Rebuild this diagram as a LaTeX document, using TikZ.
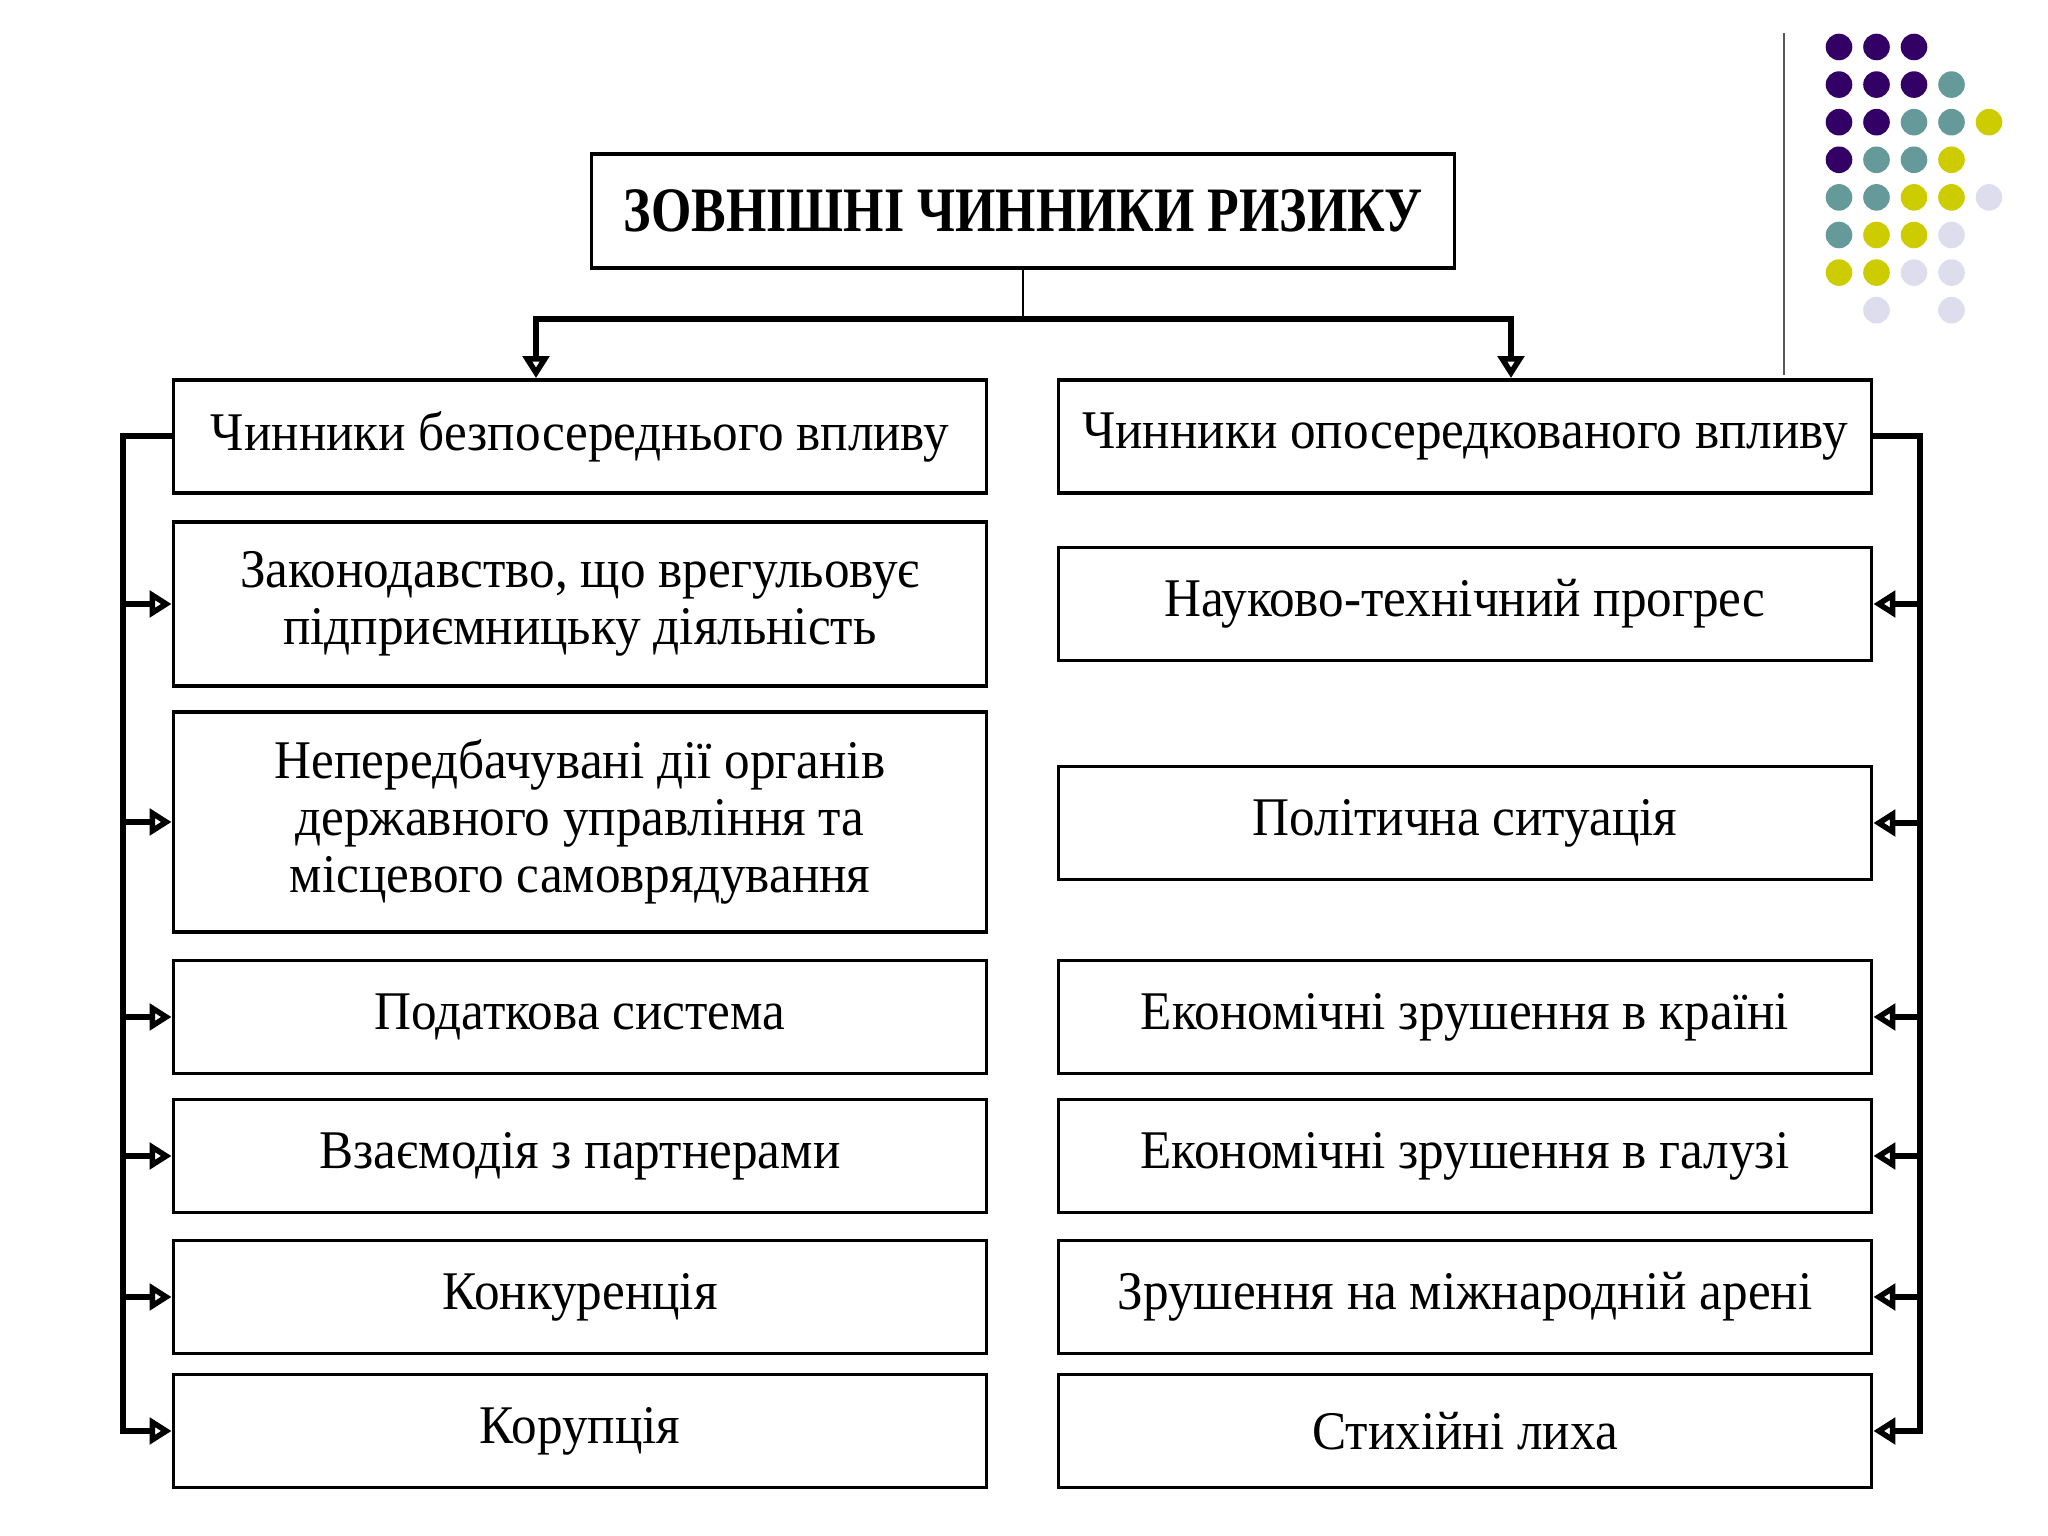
\documentclass[tikz,border=0pt]{standalone}
\usepackage{fontspec}
\setmainfont[FakeStretch=0.94]{Liberation Serif}
\newfontfamily\titlefont[FakeStretch=0.82]{Liberation Serif}
\usetikzlibrary{arrows.meta}

\definecolor{ppl}{RGB}{51,0,102}
\definecolor{tea}{RGB}{102,153,153}
\definecolor{ylw}{RGB}{204,204,0}
\definecolor{lav}{RGB}{221,221,238}

\tikzset{
  factor/.style={draw, line width=1.1pt, minimum width=8.13cm, minimum height=1.13cm,
    align=center, inner sep=2pt, font=\fontsize{15.5}{16.2}\selectfont},
  feed/.style={-{Triangle[open, length=0.22cm, width=0.26cm]}, line width=1.7pt}
}

\begin{document}
\begin{tikzpicture}
    \useasboundingbox (0,0) rectangle (20.48,15.36);

    % Decoration
    \draw[gray!70!black, line width=0.7pt] (17.84,15.03) -- (17.84,11.61);
    \foreach \dotrow [count=\r from 0] in {
        {ppl,ppl,ppl,none,none},
        {ppl,ppl,ppl,tea,none},
        {ppl,ppl,tea,tea,ylw},
        {ppl,tea,tea,ylw,none},
        {tea,tea,ylw,ylw,lav},
        {tea,ylw,ylw,lav,none},
        {ylw,ylw,lav,lav,none},
        {none,lav,none,lav,none}}
      \foreach \c [count=\k from 0] in \dotrow
        \path[fill=\c] (18.39+0.375*\k, 14.89-0.376*\r) circle (0.133);

    % Title
    \node[draw, line width=1.1pt, minimum width=8.63cm, minimum height=1.14cm,
          font=\titlefont\bfseries\fontsize{18}{20}\selectfont] (title) at (10.23,13.25)
          {ЗОВНІШНІ ЧИННИКИ РИЗИКУ};

    % Left column
    \node[factor] (l1) at (5.80,10.995) {Чинники безпосереднього впливу};
    \node[factor, minimum height=1.64cm] (l2) at (5.80,9.32)
          {Законодавство, що врегульовує\\підприємницьку діяльність};
    \node[factor, minimum height=2.20cm] (l3) at (5.80,7.14)
          {Непередбачувані дії органів\\державного управління та\\місцевого самоврядування};
    \node[factor] (l4) at (5.80,5.19) {Податкова система};
    \node[factor] (l5) at (5.80,3.80) {Взаємодія з партнерами};
    \node[factor] (l6) at (5.80,2.39) {Конкуренція};
    \node[factor] (l7) at (5.80,1.05) {Корупція};

    % Right column
    \node[factor] (r1) at (14.65,10.995) {Чинники опосередкованого впливу};
    \node[factor] (r2) at (14.65,9.32) {Науково-технічний прогрес};
    \node[factor] (r3) at (14.65,7.13) {Політична ситуація};
    \node[factor] (r4) at (14.65,5.19) {Економічні зрушення в країні};
    \node[factor] (r5) at (14.65,3.80) {Економічні зрушення в галузі};
    \node[factor] (r6) at (14.65,2.39) {Зрушення на міжнародній арені};
    \node[factor] (r7) at (14.65,1.05) {Стихійні лиха};

    % Split under the title
    \coordinate (bl) at (5.36,12.17);
    \coordinate (br) at (15.11,12.17);
    \draw[line width=0.8pt] (title.south) -- (title.south |- bl);
    \draw[feed, {Triangle[open, length=0.22cm, width=0.26cm]}-{Triangle[open, length=0.22cm, width=0.26cm]}]
        (bl |- l1.north) -- (bl) -- (br) -- (br |- r1.north);

    % Left bus
    \coordinate (lbus) at (1.23,0);
    \draw[feed] (l1.west) -- (l1.west -| lbus) |- (l7.west);
    \foreach \i in {2,...,6}
      \draw[feed] (l\i.west -| lbus) -- (l\i.west);

    % Right bus
    \coordinate (rbus) at (19.20,0);
    \draw[feed] (r1.east) -- (r1.east -| rbus) |- (r7.east);
    \foreach \i in {2,...,6}
      \draw[feed] (r\i.east -| rbus) -- (r\i.east);
\end{tikzpicture}
\end{document}
